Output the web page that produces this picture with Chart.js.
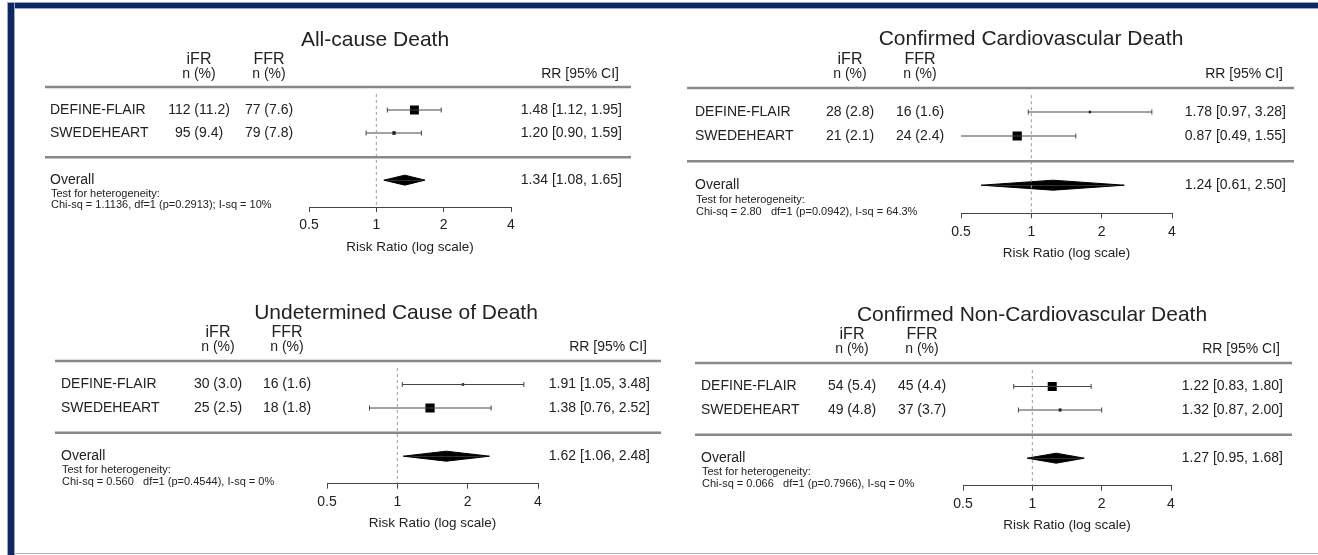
<!DOCTYPE html>
<html>
<head>
<meta charset="utf-8">
<script src="https://cdn.jsdelivr.net/npm/chart.js@4.4.1/dist/chart.umd.min.js"></script>
<style>
  html, body { margin: 0; padding: 0; background: #fff; }
  #page { position: relative; width: 1318px; height: 555px; overflow: hidden; background: #fff; }
  #page canvas { position: absolute; }
  .band { position: absolute; background: #0c2762; box-shadow: 0 0 0 1px #9aa6c4; }
</style>
</head>
<body>
<div id="page">
  <div class="band" style="left:8px;top:3px;width:1312px;height:5px"></div>
  <div class="band" style="left:8px;top:3px;width:6px;height:560px"></div>
  <div style="position:absolute;left:14px;top:553px;width:1304px;height:1px;background:#a7b0c8"></div>
</div>
<script>
// data
const studies = ["DEFINE-FLAIR", "SWEDEHEART"];
const outcomes = ["All-cause Death", "Confirmed Cardiovascular Death", "Undetermined Cause of Death", "Confirmed Non-Cardiovascular Death"];
const ifrEvents = [[112, 95], [28, 21], [30, 25], [54, 49]];
const ifrPct = [[11.2, 9.4], [2.8, 2.1], [3.0, 2.5], [5.4, 4.8]];
const ffrEvents = [[77, 79], [16, 24], [16, 18], [45, 37]];
const ffrPct = [[7.6, 7.8], [1.6, 2.4], [1.6, 1.8], [4.4, 3.7]];
const rr = [[1.48, 1.20], [1.78, 0.87], [1.91, 1.38], [1.22, 1.32]];
const rrLow = [[1.12, 0.90], [0.97, 0.49], [1.05, 0.76], [0.83, 0.87]];
const rrHigh = [[1.95, 1.59], [3.28, 1.55], [3.48, 2.52], [1.80, 2.00]];
const weights = [[88, 12], [6, 94], [6, 94], [90, 9]];
const overall = [1.34, 1.24, 1.62, 1.27];
const overallLow = [1.08, 0.61, 1.06, 0.95];
const overallHigh = [1.65, 2.50, 2.48, 1.68];
const heterogeneity = [
  "Chi-sq = 1.1136, df=1 (p=0.2913); I-sq = 10%",
  "Chi-sq = 2.80   df=1 (p=0.0942), I-sq = 64.3%",
  "Chi-sq = 0.560   df=1 (p=0.4544), I-sq = 0%",
  "Chi-sq = 0.066   df=1 (p=0.7966), I-sq = 0%"
];
const xTicks = [0.5, 1, 2, 4];

// layout (page pixels)
const panels = [
  {left: 14, top: 10, width: 648, height: 262, x05: 309, x4: 511, line1: 87, pitch: 23, labelX: 50, ifrX: 199, ffrX: 269, rrX: 622, ruleL: 45, ruleR: 631, titleX: 375},
  {left: 662, top: 10, width: 656, height: 262, x05: 961, x4: 1172, line1: 88, pitch: 24, labelX: 695, ifrX: 850, ffrX: 920, rrX: 1286, ruleL: 687, ruleR: 1294, titleX: 1031},
  {left: 14, top: 280, width: 648, height: 272, x05: 327, x4: 538, line1: 361, pitch: 23.5, labelX: 61, ifrX: 218, ffrX: 287, rrX: 650, ruleL: 55, ruleR: 661, titleX: 396},
  {left: 662, top: 280, width: 656, height: 272, x05: 963, x4: 1171, line1: 363, pitch: 23.5, labelX: 701, ifrX: 852, ffrX: 922, rrX: 1283, ruleL: 695, ruleR: 1292, titleX: 1032}
];
const rowMin = -2.6, axisRow = 5.22, overallRow = 4.05;
// tick mark + labels (14px, padding 5 each side) + title line
const xAxisH = 5 + 16.8 + 10 + 16.2;
const FONT = '"Liberation Sans", Arial, sans-serif';

Chart.defaults.font.family = FONT;
Chart.defaults.color = "#222";

const fmt = (n, p) => n + " (" + p.toFixed(1) + ")";
const fmtRR = (e, l, h) => e.toFixed(2) + " [" + l.toFixed(2) + ", " + h.toFixed(2) + "]";

const tablePlugin = {
  id: "table",
  afterDraw(chart, args, opts) {
    const k = opts.k, p = panels[k];
    const ctx = chart.ctx, y = chart.scales.y;
    const X = v => v - p.left;
    const Y = r => y.getPixelForValue(r);
    const text = (s, x, r, size, align) => {
      ctx.font = size + "px " + FONT;
      ctx.textAlign = align;
      ctx.fillText(s, X(x), Y(r));
    };
    ctx.save();
    ctx.fillStyle = "#222";
    ctx.textBaseline = "middle";
    text(outcomes[k], p.titleX, -2.05, 21, "center");
    text("iFR", p.ifrX, -1.2, 16, "center");
    text("FFR", p.ffrX, -1.2, 16, "center");
    text("n (%)", p.ifrX, -0.57, 14, "center");
    text("n (%)", p.ffrX, -0.57, 14, "center");
    text("RR [95% CI]", p.rrX - 3, -0.57, 14, "right");
    studies.forEach((s, i) => {
      text(s, p.labelX, i + 1, 14, "left");
      text(fmt(ifrEvents[k][i], ifrPct[k][i]), p.ifrX, i + 1, 14, "center");
      text(fmt(ffrEvents[k][i], ffrPct[k][i]), p.ffrX, i + 1, 14, "center");
      text(fmtRR(rr[k][i], rrLow[k][i], rrHigh[k][i]), p.rrX, i + 1, 14, "right");
    });
    text("Overall", p.labelX, overallRow, 14, "left");
    text(fmtRR(overall[k], overallLow[k], overallHigh[k]), p.rrX, overallRow, 14, "right");
    text("Test for heterogeneity:", p.labelX + 1, 4.65, 11, "left");
    text(heterogeneity[k], p.labelX + 1, 5.15, 11, "left");
    ctx.strokeStyle = "#888";
    ctx.lineWidth = 2.5;
    [0, 3.05].forEach(r => {
      ctx.beginPath();
      ctx.moveTo(X(p.ruleL), Y(r));
      ctx.lineTo(X(p.ruleR), Y(r));
      ctx.stroke();
    });
    ctx.restore();
  }
};

const page = document.getElementById("page");

panels.forEach((p, k) => {
  const cv = document.createElement("canvas");
  cv.width = p.width;
  cv.height = p.height;
  cv.style.left = p.left + "px";
  cv.style.top = p.top + "px";
  page.appendChild(cv);

  const chartTop = p.line1 + rowMin * p.pitch - p.top;
  const chartBottom = p.line1 + axisRow * p.pitch - p.top;
  const halfH = 5 / p.pitch;

  const datasets = [
    {
      data: [{x: 1, y: 0.3}, {x: 1, y: axisRow}],
      borderColor: "#9a9a9a", borderWidth: 1, borderDash: [3, 3], pointRadius: 0
    }
  ];
  studies.forEach((s, i) => {
    datasets.push({
      data: [{x: rrLow[k][i], y: i + 1}, {x: rrHigh[k][i], y: i + 1}],
      borderColor: "#444", borderWidth: 1,
      pointStyle: "line", pointRotation: 90, pointRadius: 2.5,
      pointBorderColor: "#444", pointBorderWidth: 1
    });
  });
  datasets.push({
    data: studies.map((s, i) => ({x: rr[k][i], y: i + 1})),
    showLine: false,
    pointStyle: "rect",
    pointRadius: c => 0.95 * Math.sqrt(weights[k][c.dataIndex]) / Math.SQRT2,
    pointBackgroundColor: "#000", pointBorderWidth: 0
  });
  [-halfH, halfH].forEach(d => {
    datasets.push({
      data: [
        {x: overallLow[k], y: overallRow},
        {x: overall[k], y: overallRow + d},
        {x: overallHigh[k], y: overallRow}
      ],
      fill: {value: overallRow},
      backgroundColor: "#000", borderColor: "#000", borderWidth: 1, pointRadius: 0
    });
  });

  const chart = new Chart(cv, {
    type: "line",
    data: {datasets},
    plugins: [tablePlugin],
    options: {
      responsive: false,
      animation: false,
      events: [],
      layout: {
        padding: {
          left: p.x05 - p.left,
          right: p.left + p.width - p.x4,
          top: chartTop,
          bottom: p.height - xAxisH - chartBottom
        }
      },
      plugins: {
        legend: {display: false},
        tooltip: {enabled: false},
        table: {k}
      },
      scales: {
        x: {
          type: "logarithmic",
          min: 0.5, max: 4,
          afterBuildTicks: s => { s.ticks = xTicks.map(value => ({value})); },
          ticks: {
            autoSkip: false, maxRotation: 0, padding: 5,
            font: {size: 14}, color: "#222",
            callback: v => String(v)
          },
          grid: {drawOnChartArea: false, drawTicks: true, tickLength: 5, color: "#444"},
          border: {display: true, color: "#444", width: 1},
          title: {display: true, text: "Risk Ratio (log scale)", font: {size: 13.5}, color: "#222", padding: 0}
        },
        y: {
          type: "linear", display: false, reverse: true,
          min: rowMin, max: axisRow
        }
      }
    }
  });

  // nudge the plot area so the axis sits exactly where the layout wants it
  const pad = chart.options.layout.padding;
  const dB = chart.chartArea.bottom - chartBottom;
  const dT = chart.chartArea.top - chartTop;
  if (Math.abs(dB) > 0.3 || Math.abs(dT) > 0.3) {
    pad.bottom += dB;
    pad.top -= dT;
    chart.update();
  }
});
</script>
</body>
</html>
